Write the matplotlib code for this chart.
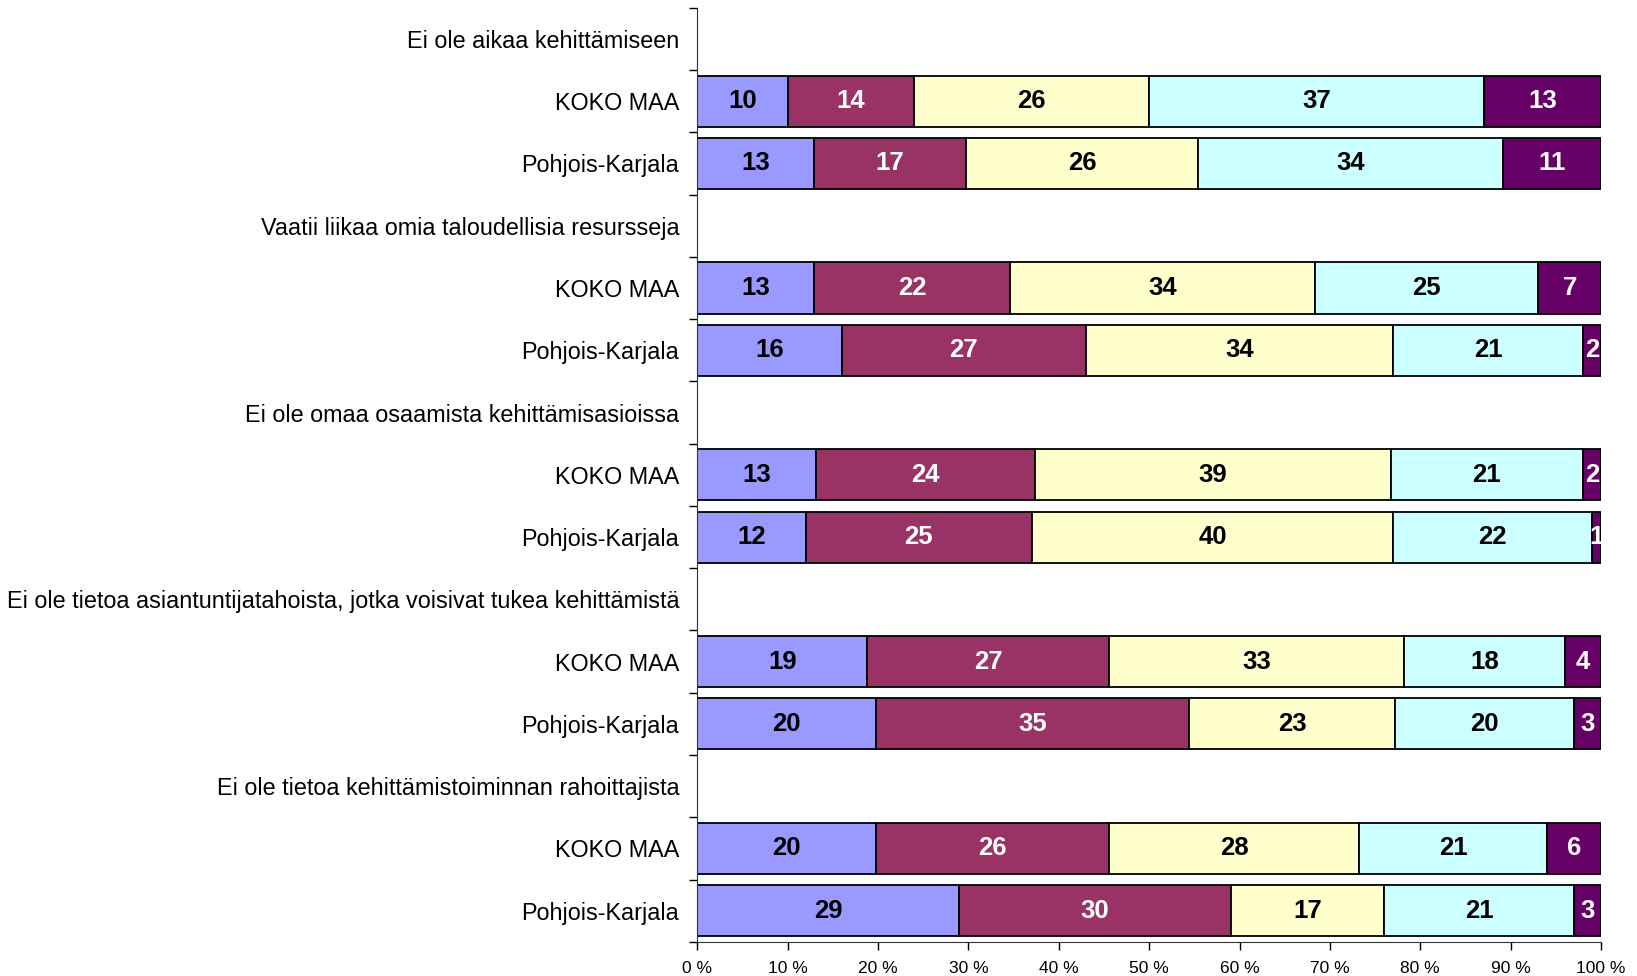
import numpy as np
import matplotlib
matplotlib.use("Agg")
import matplotlib.pyplot as plt
from matplotlib.ticker import FixedLocator, FuncFormatter

plt.rcParams['font.family'] = ['Liberation Sans', 'DejaVu Sans']

groups = [
    "Ei ole aikaa kehittämiseen",
    "Vaatii liikaa omia taloudellisia resursseja",
    "Ei ole omaa osaamista kehittämisasioissa",
    "Ei ole tietoa asiantuntijatahoista, jotka voisivat tukea kehittämistä",
    "Ei ole tietoa kehittämistoiminnan rahoittajista",
]
areas = ["KOKO MAA", "Pohjois-Karjala"]

# rows: per group KOKO MAA, Pohjois-Karjala; five answer categories
koko_maa = [
    [10, 14, 26, 37, 13],
    [13, 22, 34, 25, 7],
    [13, 24, 39, 21, 2],
    [19, 27, 33, 18, 4],
    [20, 26, 28, 21, 6],
]
pohjois_karjala = [
    [13, 17, 26, 34, 11],
    [16, 27, 34, 21, 2],
    [12, 25, 40, 22, 1],
    [20, 35, 23, 20, 3],
    [29, 30, 17, 21, 3],
]

colors = ["#9999FF", "#993366", "#FFFFCC", "#CCFFFF", "#660066"]
text_colors = ["black", "white", "black", "black", "white"]

labels = []
rows = []  # (position, values)
pos = 0
for g, km, pk in zip(groups, koko_maa, pohjois_karjala):
    labels.append(g)
    pos += 1
    labels.append(areas[0])
    rows.append((pos, km))
    pos += 1
    labels.append(areas[1])
    rows.append((pos, pk))
    pos += 1

fig = plt.figure(figsize=(16.37, 9.76), dpi=100)
ax = fig.add_axes([0.426, 0.035, 0.552, 0.957])

for y, vals in rows:
    vals = np.array(vals, dtype=float)
    pct = vals / vals.sum() * 100
    left = 0
    for i, (v, p) in enumerate(zip(vals, pct)):
        ax.barh(y, p, left=left, height=0.82, color=colors[i],
                edgecolor="black", linewidth=1.3)
        ax.text(left + p / 2, y, f"{int(v)}", ha="center", va="center",
                fontsize=18.5, fontweight="bold", color=text_colors[i])
        left += p

ax.set_xlim(0, 100)
ax.set_ylim(len(labels) - 0.5, -0.5)
ax.set_yticks(range(len(labels)))
ax.set_yticklabels(labels, fontsize=16.8)
ax.yaxis.set_minor_locator(FixedLocator(np.arange(-0.5, len(labels), 1)))
ax.tick_params(axis="y", which="major", length=0, pad=13)
ax.tick_params(axis="y", which="minor", length=6, width=1)

ax.set_xticks(np.arange(0, 101, 10))
ax.xaxis.set_major_formatter(FuncFormatter(lambda x, _: f"{int(x)} %"))
ax.tick_params(axis="x", length=6, width=1, labelsize=12.5, pad=8)

for s in ["top", "right"]:
    ax.spines[s].set_visible(False)
ax.spines["left"].set_color("#333333")
ax.spines["bottom"].set_color("#333333")

fig.savefig("out.png", dpi=100)
